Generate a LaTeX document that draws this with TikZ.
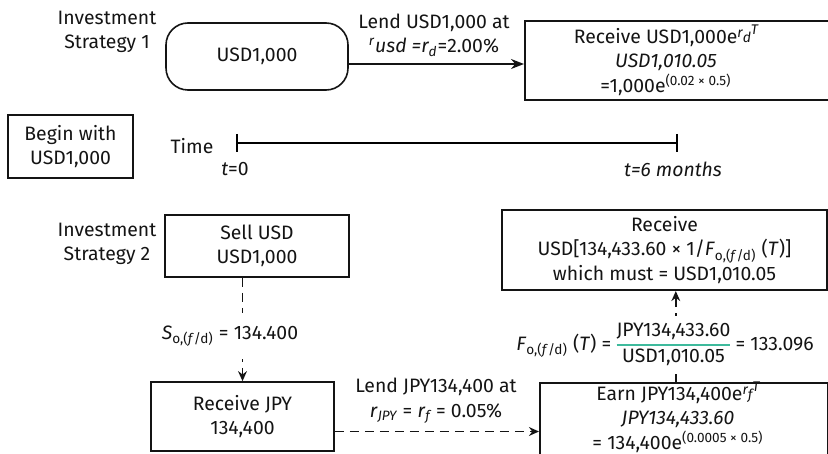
\documentclass[tikz,border=0pt]{standalone}
\usepackage{fontspec}
\setmainfont{Fira Sans}
\usepackage{tikz}
\usetikzlibrary{arrows.meta, positioning}
\usepackage{xcolor}
\usepackage{colortbl}
\definecolor{InkBlack}{RGB}{20,20,20}
\definecolor{FracTeal}{RGB}{62,186,156}
\arrayrulecolor{FracTeal}
\setlength{\arrayrulewidth}{0.8pt}

% e^{r_x T} as printed in the boxes
\newcommand{\ertexp}[1]{e\raisebox{0.6ex}{\scriptsize\itshape r\raisebox{-0.7ex}{#1}\raisebox{0.45ex}{T}}}

\begin{document}
\begin{tikzpicture}[x=0.5pt, y=-0.5pt,
          every node/.style={font=\fontsize{9.7}{12.2}\selectfont, text=InkBlack},
          plainbox/.style={rectangle, draw=InkBlack, line width=0.8pt, align=center},
          roundbox/.style={plainbox, rounded corners=11pt},
          txt/.style={align=center, inner sep=1pt},
          flow/.style={line width=0.8pt, draw=InkBlack, -{Stealth[length=6.5pt, width=5pt]}},
          dashflow/.style={flow, line width=0.95pt, dash pattern=on 4.5pt off 3pt, -{Stealth[length=5pt, width=4.4pt]}}
        ]
          \useasboundingbox (0,0) rectangle (828,454);
          \clip (0,0) rectangle (828,454);

          % strategy 1
          \node (strat1) [txt] at (107,32) {Investment\\Strategy 1};
          \node (usdA) [roundbox, minimum width=91pt, minimum height=33.5pt] at (257,56.5) {USD1,000};
          \node (recvAbox) [plainbox, anchor=north west, minimum width=200pt, minimum height=39.5pt] at (524,20) {};
          \node (recvA) [txt] at (666,60) {Receive USD1,000\ertexp{d}\\\textit{USD1,010.05}\\=1,000e\textsuperscript{(0.02 × 0.5)}};
          \draw [flow] ([yshift=-3.75pt]usdA.east) -- ([yshift=-3.75pt]usdA.east -| recvAbox.west);
          \node (lendA) [txt] at (434,35) {Lend USD1,000 at\\{\itshape\textsuperscript{r}usd =r\textsubscript{d}}=2.00\%};

          % time line
          \node (begin) [plainbox, minimum width=62.5pt, minimum height=31.5pt] at (70.5,146.5) {Begin with\\USD1,000};
          \node (timelbl) [txt] at (192,146) {Time};
          \coordinate (t0) at (237,143);
          \coordinate (t6) at (677,143);
          \draw [line width=0.75pt] (t0) -- (t6);
          \draw [line width=0.75pt] ([yshift=4.5pt]t0) -- ([yshift=-4.5pt]t0);
          \draw [line width=0.75pt] ([yshift=4.5pt]t6) -- ([yshift=-4.5pt]t6);
          \node (t0lbl) [txt] at (235,169) {\textit{t}=0};
          \node (t6lbl) [txt] at (673,169) {\itshape t=6 months};

          % strategy 2
          \node (strat2) [txt] at (107,244) {Investment\\Strategy 2};
          \node (sell) [plainbox, minimum width=92pt, minimum height=31pt] at (257,246) {Sell USD\\USD1,000};
          \node (rjpy) [plainbox, minimum width=91.5pt, minimum height=34.5pt] at (242.5,416.5) {Receive JPY\\134,400};
          \draw [dashflow] (rjpy.north |- sell.south) -- (rjpy.north);
          \node (spot) [txt, fill=white, inner ysep=6pt] at (230,336) {\textit{S}\textsubscript{o,(\textit{f}/d)} = 134.400};

          \node (recvB) [plainbox, minimum width=162.5pt, minimum height=35pt] at (664.5,250) {Receive\\USD[134,433.60 × 1/\textit{F}\textsubscript{o,(\textit{f}/d)} (\textit{T})]\\which must = USD1,010.05};
          \node (earnbox) [plainbox, anchor=north west, minimum width=144pt, minimum height=45pt] at (539,382) {};
          \node (earn) [txt] at (678,417) {Earn JPY134,400\ertexp{f}\\\textit{JPY134,433.60}\\= 134,400e\textsuperscript{(0.0005 × 0.5)}};
          \draw [dashflow] ([yshift=-7.5pt]rjpy.east) -- ([yshift=-7.5pt]rjpy.east -| earnbox.west);
          \node (lendB) [txt] at (436,401) {Lend JPY134,400 at\\\textit{r}\textsubscript{\itshape JPY} = \textit{r}\textsubscript{\itshape f} = 0.05\%};

          \draw [dashflow] ([xshift=-4pt]earnbox.north) -- ([xshift=-4pt]earnbox.north |- recvB.south);
          \node (fwd) [txt, fill=white, inner ysep=2pt] at (665,345) {\textit{F}\textsubscript{o,(\textit{f}/d)} (\textit{T}) = \begin{tabular}[c]{@{}c@{}}JPY134,433.60\\\hline USD1,010.05\end{tabular} = 133.096};
        \end{tikzpicture}
\end{document}
